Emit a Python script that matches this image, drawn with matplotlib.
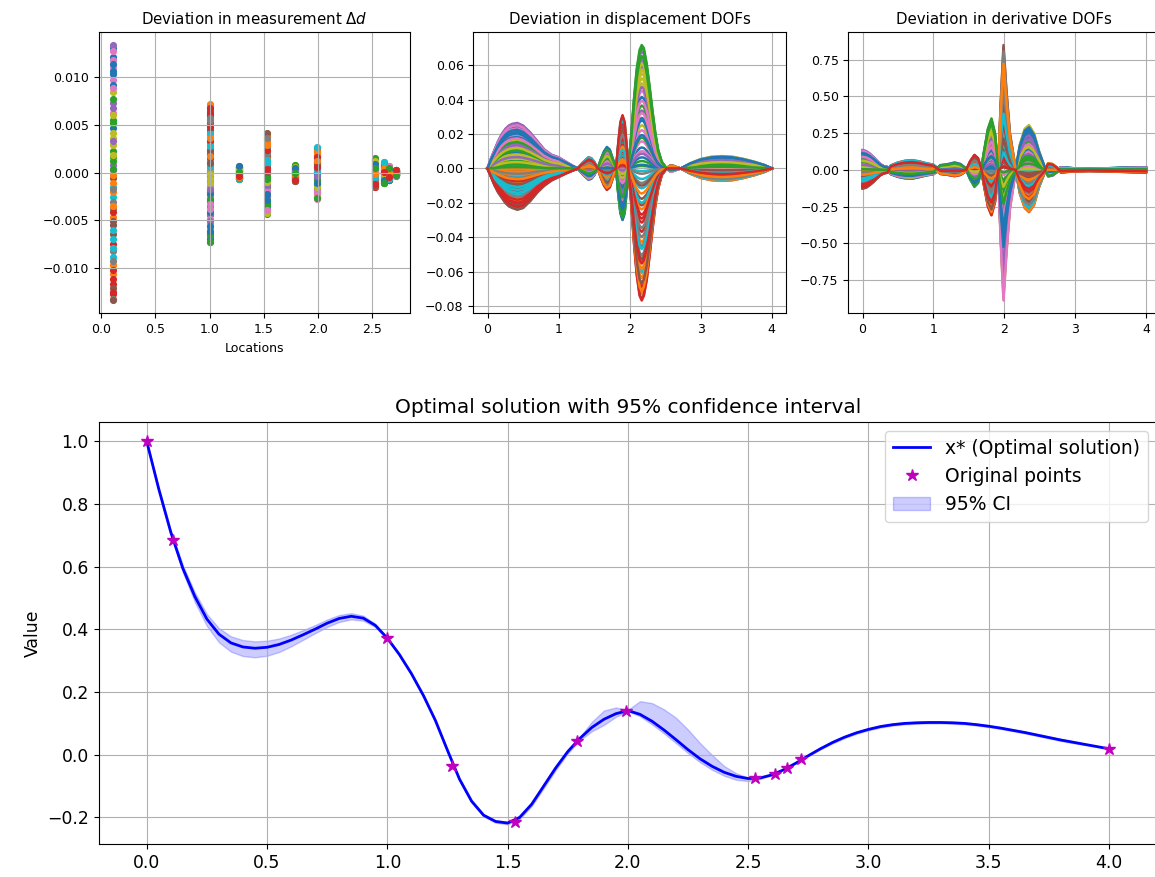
import numpy as np
import matplotlib
matplotlib.use("Agg")
import matplotlib.pyplot as plt

# measurement locations and the spread of the sampled deviations there
locations = [0.11, 1.0, 1.27, 1.53, 1.79, 1.99, 2.53, 2.61, 2.66, 2.72]
meas_hi = [0.0134, 0.0072, 0.0007, 0.0042, 0.0008, 0.0027, 0.0015, 0.0011, 0.0007, 0.0003]
meas_lo = [-0.0134, -0.0073, -0.0007, -0.0043, -0.0009, -0.0027, -0.0015, -0.0011, -0.0008, -0.0003]

# per-sample weights (fraction of the envelope reached by each sample)
sample_coefs = [0.98, -0.35, 0.12, -0.87, 0.55, -0.04, 0.73, -0.61, 0.27, -0.19,
                0.91, -0.72, 0.41, -0.95, 0.06, -0.48, 0.83, -0.28, 0.63, -0.11,
                0.35, -0.79, 0.17, -0.56, 1.00, -0.41, 0.47, -0.99, 0.22, -0.66,
                0.77, -0.08, 0.58, -0.31, 0.02, -0.90, 0.88, -0.23, 0.31, -0.52,
                0.69, -0.15, 0.09, -0.83, 0.51, -0.38, 0.95, -0.69, 0.14, -0.45,
                0.80, -0.02, 0.39, -0.76, 0.25, -1.00, 0.66, -0.13, 0.45, -0.59,
                0.85, -0.26, 0.03, -0.93]

# envelope of the displacement DOF deviations
disp_x = [0, 0.05, 0.1, 0.15, 0.2, 0.25, 0.3, 0.35, 0.42, 0.5, 0.6, 0.7, 0.8, 0.9,
          1.0, 1.1, 1.2, 1.27, 1.33, 1.38, 1.42, 1.46, 1.5, 1.55, 1.6, 1.64, 1.68,
          1.72, 1.76, 1.81, 1.84, 1.87, 1.9, 1.93, 1.96, 1.98, 2.02, 2.06, 2.1,
          2.14, 2.17, 2.2, 2.24, 2.28, 2.32, 2.36, 2.4, 2.45, 2.52, 2.57, 2.62,
          2.67, 2.72, 2.85, 3.0, 3.15, 3.3, 3.45, 3.6, 3.75, 3.9, 4.0]
disp_hi = [0, 0.006, 0.011, 0.016, 0.020, 0.023, 0.025, 0.026, 0.0265, 0.025, 0.021,
           0.016, 0.011, 0.008, 0.0065, 0.004, 0.0015, 0, 0.003, 0.005, 0.0065, 0.006,
           0.004, 0, 0.006, 0.010, 0.0125, 0.011, 0.006, 0, 0.015, 0.027, 0.031,
           0.027, 0.012, 0, 0.018, 0.040, 0.058, 0.069, 0.0718, 0.070, 0.061, 0.048,
           0.034, 0.021, 0.011, 0.004, 0, 0.0018, 0.0015, 0.0006, 0, 0.003, 0.0055,
           0.0068, 0.0072, 0.0068, 0.0056, 0.004, 0.002, 0]
disp_lo = [0, -0.005, -0.010, -0.014, -0.017, -0.020, -0.022, -0.023, -0.024, -0.023,
           -0.019, -0.014, -0.010, -0.007, -0.005, -0.003, -0.0012, 0, -0.003, -0.005,
           -0.0065, -0.006, -0.004, 0, -0.006, -0.010, -0.0125, -0.011, -0.006, 0,
           -0.015, -0.026, -0.030, -0.026, -0.012, 0, -0.019, -0.043, -0.062, -0.074,
           -0.0768, -0.074, -0.065, -0.051, -0.036, -0.022, -0.012, -0.004, 0,
           -0.0018, -0.0015, -0.0006, 0, -0.003, -0.0055, -0.0068, -0.0072, -0.0068,
           -0.0056, -0.004, -0.002, 0]
disp_nodes = [1.27, 1.55, 1.81, 1.98, 2.52, 2.72]

# envelope of the derivative DOF deviations
deriv_x = [0.0, 0.05, 0.1, 0.15, 0.2, 0.25, 0.3, 0.35, 0.4, 0.5, 0.6, 0.7, 0.8, 0.9,
           1.0, 1.1, 1.2, 1.3, 1.38, 1.46, 1.52, 1.58, 1.63, 1.67, 1.72, 1.77, 1.82,
           1.87, 1.915, 1.95, 1.99, 2.03, 2.08, 2.16, 2.22, 2.29, 2.35, 2.42, 2.49,
           2.57, 2.62, 2.68, 2.72, 2.8, 3.0, 3.2, 3.4, 3.6, 3.8, 4.0]
deriv_hi = [0.135, 0.128, 0.112, 0.09, 0.065, 0.04, 0.025, 0.02, 0.03, 0.05, 0.062,
            0.066, 0.058, 0.045, 0.035, 0.032, 0.038, 0.05, 0.04, 0.01, 0.06, 0.102,
            0.08, 0.02, 0.14, 0.28, 0.35, 0.25, 0.01, 0.45, 0.85, 0.55, 0.25, 0.01,
            0.17, 0.28, 0.305, 0.25, 0.13, 0.02, 0.045, 0.04, 0.025, 0.018, 0.01,
            0.008, 0.01, 0.013, 0.016, 0.018]
deriv_lo = [-0.128, -0.122, -0.105, -0.085, -0.06, -0.038, -0.024, -0.02, -0.03,
            -0.048, -0.058, -0.06, -0.05, -0.038, -0.03, -0.028, -0.034, -0.043,
            -0.035, -0.01, -0.065, -0.115, -0.09, -0.02, -0.12, -0.25, -0.31, -0.22,
            -0.01, -0.48, -0.89, -0.58, -0.27, -0.01, -0.16, -0.26, -0.288, -0.24,
            -0.12, -0.02, -0.045, -0.04, -0.025, -0.018, -0.01, -0.008, -0.01,
            -0.013, -0.016, -0.018]
deriv_nodes = [0.35, 1.0, 1.46, 1.67, 1.915, 2.16, 2.57, 2.72]

# optimal solution sampled every 0.05 on [0, 4]
curve_x = np.linspace(0, 4, 81)
curve_y = [1.000, 0.848, 0.710, 0.595, 0.505, 0.433, 0.385, 0.357, 0.344, 0.340,
           0.343, 0.352, 0.366, 0.383, 0.401, 0.420, 0.435, 0.442, 0.436, 0.413,
           0.372, 0.320, 0.259, 0.189, 0.109, 0.014, -0.078, -0.148, -0.193, -0.213,
           -0.218, -0.200, -0.158, -0.100, -0.042, 0.010, 0.052, 0.087, 0.113, 0.131,
           0.141, 0.129, 0.107, 0.079, 0.048, 0.016, -0.013, -0.037, -0.056, -0.069,
           -0.076, -0.074, -0.064, -0.047, -0.026, -0.003, 0.019, 0.039, 0.056, 0.070,
           0.081, 0.090, 0.096, 0.100, 0.102, 0.103, 0.103, 0.102, 0.100, 0.096,
           0.091, 0.085, 0.078, 0.071, 0.063, 0.055, 0.047, 0.040, 0.033, 0.026,
           0.019]
ci_up = [0, 0.004, 0.006, 0.010, 0.013, 0.016, 0.019, 0.021, 0.022, 0.022,
         0.021, 0.019, 0.017, 0.015, 0.013, 0.012, 0.011, 0.010, 0.008, 0.005,
         0.002, 0.003, 0.003, 0.003, 0.003, 0.002, 0.003, 0.004, 0.004, 0.004,
         0.004, 0.005, 0.006, 0.007, 0.007, 0.006, 0.005, 0.018, 0.028, 0.020,
         0.002, 0.042, 0.058, 0.066, 0.070, 0.064, 0.050, 0.036, 0.020, 0.010,
         0.003, 0.002, 0.001, 0.001, 0.001, 0.001, 0.002, 0.003, 0.003, 0.003,
         0.003, 0.003, 0.003, 0.003, 0.003, 0.003, 0.003, 0.003, 0.003, 0.003,
         0.003, 0.003, 0.003, 0.003, 0.003, 0.003, 0.003, 0.003, 0.002, 0.001,
         0]
ci_down = [0, 0.004, 0.006, 0.012, 0.018, 0.022, 0.026, 0.028, 0.029, 0.029,
           0.027, 0.024, 0.020, 0.016, 0.013, 0.012, 0.011, 0.010, 0.008, 0.005,
           0.002, 0.003, 0.003, 0.003, 0.003, 0.002, 0.004, 0.004, 0.004, 0.004,
           0.004, 0.005, 0.006, 0.007, 0.007, 0.006, 0.006, 0.012, 0.018, 0.010,
           0.002, 0.006, 0.010, 0.011, 0.011, 0.011, 0.011, 0.011, 0.011, 0.011,
           0.008, 0.003, 0.001, 0.001, 0.001, 0.001, 0.002, 0.003, 0.003, 0.003,
           0.003, 0.003, 0.003, 0.003, 0.003, 0.003, 0.003, 0.003, 0.003, 0.003,
           0.003, 0.003, 0.003, 0.003, 0.003, 0.003, 0.003, 0.003, 0.002, 0.001,
           0]

points_x = [0.0, 0.11, 1.0, 1.27, 1.53, 1.79, 1.99, 2.53, 2.61, 2.66, 2.72, 4.0]
points_y = [1.0, 0.685, 0.372, -0.035, -0.215, 0.045, 0.141, -0.075, -0.060, -0.041, -0.012, 0.019]


def ensemble(xs, hi, lo, nodes):
    """One curve per sample, each lobe between nodes gets its own weight."""
    xs = np.asarray(xs)
    hi = np.asarray(hi)
    lo = np.asarray(lo)
    lobe = np.searchsorted(nodes, xs)
    coefs = np.asarray(sample_coefs)
    curves = []
    for k in range(len(coefs)):
        c = np.array([np.roll(coefs, 13 * j)[k] for j in lobe])
        curves.append(np.where(c >= 0, c * hi, -c * lo))
    return curves


fig = plt.figure(figsize=(11.55, 8.77), dpi=100)

ax1 = fig.add_axes([0.0857, 0.6428, 0.2693, 0.3204])
ax2 = fig.add_axes([0.4098, 0.6428, 0.2707, 0.3204])
ax3 = fig.add_axes([0.7345, 0.6428, 0.2699, 0.3204])
ax = fig.add_axes([0.0854, 0.0376, 0.9165, 0.4815])

# deviation in the measurements, one scatter per sample
coefs = np.asarray(sample_coefs)
for k in range(len(coefs)):
    vals = []
    for j in range(len(locations)):
        c = np.roll(coefs, 7 * j)[k]
        vals.append(c * meas_hi[j] if c >= 0 else -c * meas_lo[j])
    ax1.scatter(locations, vals, s=17)
ax1.set_title(r"Deviation in measurement $\Delta d$", fontsize=10.8)
ax1.set_xlabel("Locations", fontsize=9)
ax1.grid(True)

for y in ensemble(disp_x, disp_hi, disp_lo, disp_nodes):
    ax2.plot(disp_x, y, lw=1.8)
ax2.set_title("Deviation in displacement DOFs", fontsize=10.8)
ax2.grid(True)

for y in ensemble(deriv_x, deriv_hi, deriv_lo, deriv_nodes):
    ax3.plot(deriv_x, y, lw=1.8)
ax3.set_title("Deviation in derivative DOFs", fontsize=10.8)
ax3.grid(True)

for a in (ax1, ax2, ax3):
    a.tick_params(labelsize=9)

# optimal solution with its confidence band
curve_y = np.asarray(curve_y)
ax.plot(curve_x, curve_y, "b-", lw=2, label="x* (Optimal solution)")
ax.plot(points_x, points_y, "m*", ms=9, label="Original points")
ax.fill_between(curve_x, curve_y - np.asarray(ci_down), curve_y + np.asarray(ci_up),
                color="b", alpha=0.2, label="95% CI")
ax.set_xlim(-0.2, 4.2)
ax.set_ylim(-0.285, 1.063)
ax.set_title("Optimal solution with 95% confidence interval", fontsize=14.5)
ax.set_ylabel("Value", fontsize=12.4)
ax.tick_params(labelsize=12.4)
ax.legend(fontsize=13.5, loc="upper right")
ax.grid(True)

fig.savefig("out.png", dpi=100)
